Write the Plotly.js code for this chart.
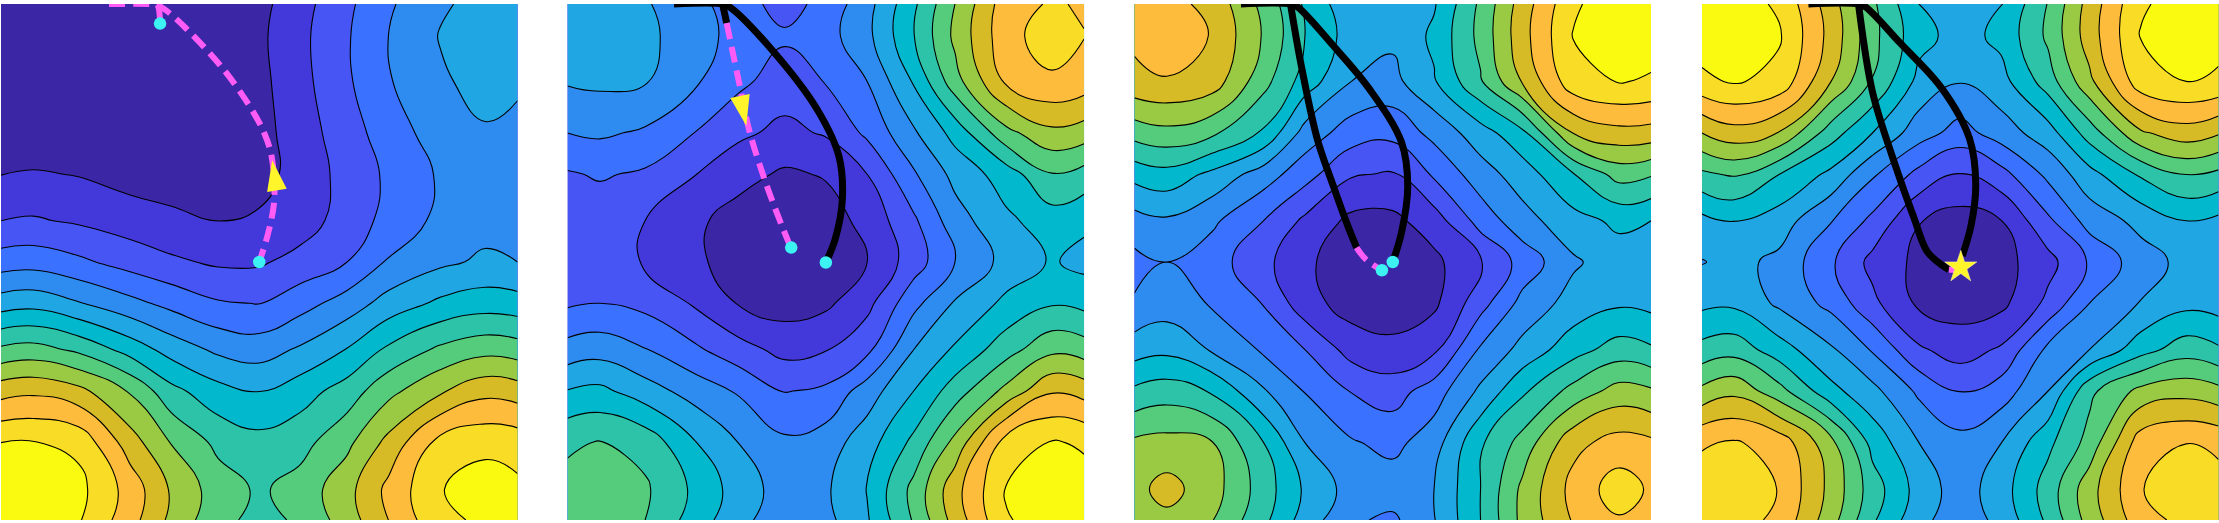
<!DOCTYPE html>
<html><head><meta charset="utf-8">
<script src="https://cdn.plot.ly/plotly-3.0.1.min.js"></script>
<style>html,body{margin:0;padding:0;background:#fff;overflow:hidden}</style>
</head><body><div id="chart" style="width:2219px;height:523px"></div>
<script>
const gridX=[0,.0625,.15,.25,.33,.42,.5,.58,.67,.75,.85,.9375,1];
const gridY=[0,.0625,.15,.25,.33,.42,.5,.58,.67,.75,.85,.94,1];
const bandColors=['#3B26A5','#4338D9','#4755F5','#3A72FF','#2E8BEF','#20A6E2','#02B8CC','#2CC3A8','#55CC7C','#9ACA44','#D6BB26','#FEBC3C','#F8DC26','#F9FA0F'];

const z1=[
[-0.5,-0.7,-0.7,-0.6,-0.6,-0.2,0.7,1.63,2.78,3.85,4.87,5.3,5.2],
[-0.5,-0.7,-0.7,-0.6,-0.6,-0.2,0.8,1.75,2.9,4.0,5.05,5.5,5.3],
[-0.4,-0.5,-0.4,-0.3,-0.4,-0.2,0.72,1.68,2.85,3.92,4.85,5.35,5.15],
[0.1,0.2,0.15,0.1,0,-0.1,0.65,1.5,2.57,3.47,4.5,4.9,4.75],
[0.98,1.1,0.95,0.6,0.45,0.3,0.6,1.43,2.33,3.18,4.12,4.5,4.4],
[2.0,2.1,1.87,1.5,1.25,0.98,1.15,1.5,2.46,3.3,4.25,4.65,4.55],
[3.5,3.6,3.2,2.6,2.17,1.85,1.87,2.35,3.0,4.1,4.8,5.17,5.0],
[5.5,5.66,5.07,4.3,3.7,3.1,2.97,3.6,4.45,5.4,6.2,6.53,6.4],
[8.2,8.4,7.8,6.6,5.6,4.8,4.55,5.15,6.05,7.2,8.2,8.68,8.5],
[10.6,10.8,10.3,8.9,7.3,6.35,5.95,6.55,7.45,8.7,9.85,10.7,10.5],
[13.0,13.05,12.75,10.47,8.95,7.75,7.35,7.65,8.75,10.3,12.35,12.74,12.6],
[13.6,13.8,13.3,11.6,9.87,8.5,7.85,8.4,9.66,11.26,12.95,13.45,13.2],
[13.4,13.55,13.1,11.4,9.75,8.3,7.7,8.15,9.5,11.0,12.8,13.15,13.05]];

const z2=[
[5.2,5.25,5.1,4.3,3.45,2.6,3.33,4.63,6.8,9.0,11.6,12.1,11.9],
[5.2,5.4,5.25,4.4,3.65,3.15,3.6,4.73,6.96,9.23,11.7,12.45,12.03],
[5.1,5.2,5.08,4.1,3.25,2.5,3.05,4.0,6.1,8.6,11.2,11.85,11.55],
[4.0,4.15,3.85,2.95,2.2,1.75,2.1,3.2,4.85,6.35,8.7,9.75,9.5],
[2.9,3.1,2.85,2.0,1.35,0.85,1.08,2.0,3.87,5.3,6.5,7.95,7.6],
[2.05,2.45,2.0,1.17,0.6,0.35,0.55,1.3,2.82,4.56,5.8,6.5,6.2],
[2.05,2.5,1.9,1.15,0.6,0.3,0.5,1.0,2.5,4.0,5.35,6.1,5.7],
[2.85,3.0,2.7,1.85,0.95,0.55,0.8,1.7,3.7,5.1,6.25,6.9,6.7],
[4.4,4.6,4.05,3.15,2.4,1.7,1.95,2.75,5.0,6.15,7.6,8.75,8.5],
[6.05,6.25,5.45,4.55,3.9,2.95,3.2,4.5,6.0,7.5,9.3,10.9,10.6],
[7.85,8.05,7.65,6.0,5.0,4.2,4.5,5.55,7.25,9.3,12.5,13.07,12.9],
[8.3,8.55,8.15,6.75,5.55,4.55,4.85,6.05,8.3,10.65,13.07,13.65,13.3],
[8.1,8.3,8.0,6.5,5.3,4.4,4.7,5.9,8.1,10.4,12.95,13.3,13.1]];

const z3=[
[11.1,11.35,10.7,8.7,6.85,5.25,5.02,5.9,8.2,10.45,12.85,13.6,13.3],
[11.2,11.55,10.95,8.9,7.0,5.55,5.2,6.2,8.3,10.6,13.05,13.8,13.4],
[10.75,10.93,10.55,8.35,6.55,5.0,4.7,5.9,7.9,10.05,12.65,13.05,12.9],
[8.4,8.7,8.2,6.85,4.6,3.5,3.3,4.3,5.55,6.7,10.05,10.67,10.6],
[6.35,6.65,5.75,4.5,3.4,2.1,1.9,3.15,4.55,5.48,6.95,8.4,8.1],
[4.6,4.85,4.2,3.0,1.8,0.75,0.75,1.5,3.4,4.6,5.65,6.2,6.0],
[3.7,4.0,3.45,2.3,1.15,0.55,0.35,0.75,1.95,3.35,4.85,5.55,5.5],
[4.1,4.5,3.9,2.95,1.4,0.55,0.5,0.8,2.6,4.3,5.4,5.85,5.7],
[5.55,5.75,4.9,3.85,3.0,1.6,1.25,1.8,4.15,5.3,6.6,7.45,7.15],
[7.2,7.5,6.9,5.1,3.95,2.95,2.55,3.5,5.2,6.8,8.35,9.4,9.15],
[9.2,9.35,9.05,7.0,5.0,4.1,3.7,4.55,6.85,8.35,10.7,11.4,11.2],
[9.7,10.35,9.45,7.5,5.85,4.6,4.55,5.0,7.0,9.2,11.35,12.5,11.85],
[9.5,9.75,9.05,7.25,5.55,4.15,3.8,4.95,7.0,9.25,11.1,11.9,11.6]];

const z4=[
[13.3,13.45,12.85,10.45,8.2,6.0,5.45,5.95,8.05,10.4,12.9,13.35,13.1],
[13.45,13.75,13.1,10.65,8.3,6.35,5.6,6.27,8.2,10.5,13.05,13.7,13.3],
[12.8,13.1,12.7,10.0,7.95,5.7,5.05,5.65,7.5,9.75,12.6,13.0,12.85],
[10.0,10.6,9.95,7.45,6.0,4.45,3.6,4.5,5.55,7.45,9.85,10.55,10.1],
[7.8,8.15,7.0,5.75,4.15,2.7,1.9,2.65,4.25,5.65,7.15,8.05,7.75],
[5.7,6.05,5.5,4.05,2.75,1.05,0.6,1.0,2.8,4.4,5.3,6.0,5.75],
[4.95,5.3,4.75,3.15,1.7,0.75,0.3,0.65,1.65,3.1,4.55,5.3,5.0],
[5.75,5.8,4.8,3.7,2.25,0.8,0.55,0.75,2.25,4.0,5.05,5.7,5.55],
[7.35,7.6,6.45,5.15,3.9,2.15,1.55,2.15,4.25,5.0,6.6,7.55,7.15],
[9.25,9.75,8.35,6.3,5.3,3.8,2.9,3.5,5.0,7.75,9.3,9.65,9.3],
[11.9,12.1,11.6,9.3,6.65,5.0,4.35,5.0,6.75,8.35,11.55,11.98,11.8],
[12.45,12.75,11.95,9.7,7.5,5.6,4.5,5.55,7.45,9.6,11.95,12.7,12.35],
[12.2,12.45,11.75,9.4,7.15,5.3,4.4,5.3,7.2,9.4,11.6,12.3,12.05]];

const p1StartX=[.209,.289,.302,.308], p1StartY=[0,0,.001,.038];
const p1DashX=[.302,.323,.358,.427,.482,.510,.524,.529,.517,.500], p1DashY=[.001,.015,.047,.122,.199,.251,.296,.380,.445,.500];
const p1EndX=[.308,.500], p1EndY=[.038,.500];
const p1TipX=[.525], p1TipY=[.303];

const p2MainX=[.206,.300,.314,.400,.483,.525,.532,.518,.500], p2MainY=[0,0,.006,.094,.204,.294,.378,.456,.501];
const p2BranchX=[.300,.308], p2BranchY=[0,.037];
const p2DashX=[.308,.334,.352,.386,.428,.433], p2DashY=[.037,.162,.246,.353,.462,.472];
const p2EndX=[.433,.500], p2EndY=[.472,.501];
const p2TipX=[.346], p2TipY=[.236];

const p3MainX=[.206,.302,.316,.385,.455,.517,.529,.517,.500], p3MainY=[0,0,.006,.081,.165,.268,.353,.443,.500];
const p3BranchX=[.302,.323,.354,.385,.413,.430], p3BranchY=[0,.120,.262,.353,.430,.472];
const p3DashX=[.430,.448,.479], p3DashY=[.472,.495,.516];
const p3EndX=[.500,.479], p3EndY=[.500,.516];

const p4MainX=[.206,.303,.317,.384,.464,.518,.530,.521,.504], p4MainY=[0,0,.006,.076,.163,.261,.351,.429,.488];
const p4BranchX=[.303,.330,.370,.411,.437,.478], p4BranchY=[0,.170,.300,.416,.481,.515];
const p4DashX=[.478,.488], p4DashY=[.515,.515];
const p4EndX=[.501], p4EndY=[.510];

const lefts=[1,567.6,1134.5,1702], panelW=516.5, panelTop=4, panelBottom=520, W=2219, H=523;
const colorscale=bandColors.map((c,i)=>[i/13,c]);
const MAG='#FF5CF5', CY='#3CF2F2', YEL='#FFF52A';
const traces=[], layout={width:W,height:H,margin:{l:0,r:0,t:0,b:0},paper_bgcolor:'#fff',plot_bgcolor:'#fff',showlegend:false};
[z1,z2,z3,z4].forEach((z,i)=>{
  const n=i+1, xa='x'+(i?n:''), ya='y'+(i?n:'');
  layout['xaxis'+(i?n:'')]={domain:[lefts[i]/W,(lefts[i]+panelW)/W],range:[0,1],visible:false,anchor:ya,fixedrange:true};
  layout['yaxis'+(i?n:'')]={domain:[1-panelBottom/H,1-panelTop/H],range:[1,0],visible:false,anchor:xa,fixedrange:true};
  traces.push({type:'contour',x:gridX,y:gridY,z,xaxis:xa,yaxis:ya,colorscale,showscale:false,hoverinfo:'skip',
    contours:{coloring:'fill',start:1,end:13,size:1,showlines:true},line:{color:'#000',width:1.1,smoothing:1.3}});
});
function line(i,x,y,color,dash){const n=i+1;traces.push({type:'scatter',mode:'lines',x,y,xaxis:'x'+(i?n:''),yaxis:'y'+(i?n:''),cliponaxis:false,hoverinfo:'skip',
  line:{color,width:dash?6:7,shape:'spline',smoothing:1,dash:dash?'16px,8px':'solid'}});}
function pts(i,x,y,symbol,size,color,angle,lw){const n=i+1;traces.push({type:'scatter',mode:'markers',x,y,xaxis:'x'+(i?n:''),yaxis:'y'+(i?n:''),cliponaxis:false,hoverinfo:'skip',
  marker:{symbol,size,color,angle:angle||0,line:{width:lw||0,color:'#FFF6A0'}}});}
line(0,p1StartX,p1StartY,MAG,true);line(0,p1DashX,p1DashY,MAG,true);
pts(0,p1EndX,p1EndY,'circle',12.5,CY);pts(0,p1TipX,p1TipY,'arrow',32,YEL,-9);
line(1,p2MainX,p2MainY,'#000');line(1,p2BranchX,p2BranchY,'#000');line(1,p2DashX,p2DashY,MAG,true);
pts(1,p2EndX,p2EndY,'circle',12.5,CY);pts(1,p2TipX,p2TipY,'arrow',32,YEL,168);
line(2,p3MainX,p3MainY,'#000');line(2,p3BranchX,p3BranchY,'#000');line(2,p3DashX,p3DashY,MAG,true);
pts(2,p3EndX,p3EndY,'circle',12.5,CY);
line(3,p4MainX,p4MainY,'#000');line(3,p4BranchX,p4BranchY,'#000');line(3,p4DashX,p4DashY,MAG,true);
pts(3,p4EndX,p4EndY,'circle',12.5,CY);pts(3,p4EndX,p4EndY,'star',24,YEL,0,0.6);
Plotly.newPlot('chart',traces,layout,{staticPlot:true,displayModeBar:false});
</script></body></html>
